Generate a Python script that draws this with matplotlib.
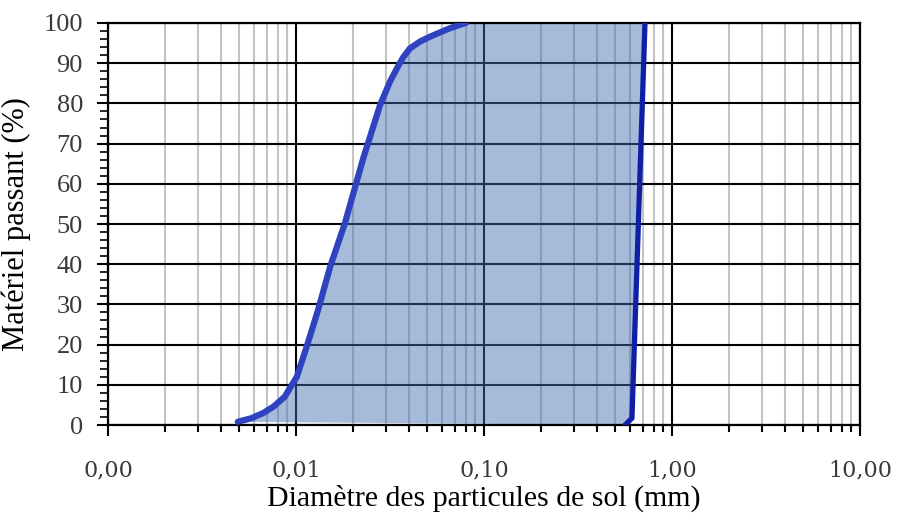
import matplotlib
matplotlib.use("Agg")
import matplotlib.pyplot as plt
from matplotlib.ticker import FixedLocator, LogLocator, NullFormatter, MultipleLocator

# Grain-size distribution (percent passing vs. particle diameter, mm)
fine_diam = [0.0049, 0.0058, 0.0067, 0.0076, 0.0087, 0.0101, 0.0114, 0.0131,
             0.0152, 0.0182, 0.0228, 0.0280, 0.0316, 0.0344, 0.0372, 0.0404,
             0.0457, 0.0516, 0.0659, 0.0773, 0.0800]
fine_pass = [0.8, 1.7, 3.0, 4.6, 7.0, 12.0, 19.5, 28.6,
             39.4, 50.2, 66.4, 79.6, 85.4, 88.7, 91.5, 93.7,
             95.4, 96.6, 98.7, 99.8, 100.0]

coarse_diam = [0.562, 0.612, 0.662, 0.718]
coarse_pass = [0.0, 1.7, 50.0, 100.0]

x_ticks = [0.001, 0.01, 0.1, 1, 10]
x_tick_labels = ["0,00", "0,01", "0,10", "1,00", "10,00"]
y_ticks = [0, 10, 20, 30, 40, 50, 60, 70, 80, 90, 100]

fig = plt.figure(figsize=(8.97, 5.19), dpi=100)
ax = fig.add_axes([0.1204, 0.1811, 0.8384, 0.7746])

ax.set_xscale("log")
ax.set_xlim(0.001, 10)
ax.set_ylim(0, 100)

# grid: black major lines, grey minor verticals
ax.set_axisbelow(True)
ax.xaxis.set_minor_locator(LogLocator(base=10, subs=range(2, 10)))
ax.xaxis.set_minor_formatter(NullFormatter())
ax.grid(which="major", axis="both", color="black", linewidth=1.5, zorder=0)
ax.grid(which="minor", axis="x", color="#c4c4c4", linewidth=1.5, zorder=0)

# shaded envelope between the two curves
poly_x = fine_diam + coarse_diam[::-1]
poly_y = fine_pass + coarse_pass[::-1]
ax.fill(poly_x, poly_y, color="#426fb2", alpha=0.47, linewidth=0, zorder=1)

ax.plot(fine_diam, fine_pass, color="#2f43c0", linewidth=4.5,
        solid_capstyle="round", solid_joinstyle="round", zorder=3)
ax.plot(coarse_diam, coarse_pass, color="#1020a6", linewidth=3.8,
        solid_capstyle="round", solid_joinstyle="round", zorder=3)

ax.xaxis.set_major_locator(FixedLocator(x_ticks))
ax.set_xticklabels(x_tick_labels, family="DejaVu Serif", fontsize=16,
                   color="#3a3a3a")
ax.set_yticks(y_ticks)
ax.set_yticklabels([str(v) for v in y_ticks], family="Liberation Serif",
                   fontsize=19, color="#3a3a3a")
ax.yaxis.set_minor_locator(MultipleLocator(2))

ax.tick_params(axis="x", which="major", direction="out", length=8, width=1.5,
               pad=17)
ax.tick_params(axis="x", which="minor", direction="out", length=5, width=1.5)
ax.tick_params(axis="y", which="major", direction="out", length=8, width=1.5,
               pad=10)
ax.tick_params(axis="y", which="minor", direction="out", length=6, width=1.2)

for side in ax.spines.values():
    side.set_color("black")
    side.set_linewidth(1.6)

ax.set_xlabel("Diamètre des particules de sol (mm)", family="Liberation Serif",
              fontsize=21.5, labelpad=2)
ax.set_ylabel("Matériel passant (%)", family="Liberation Serif", fontsize=22,
              labelpad=9)

fig.savefig("out.png", dpi=100)
